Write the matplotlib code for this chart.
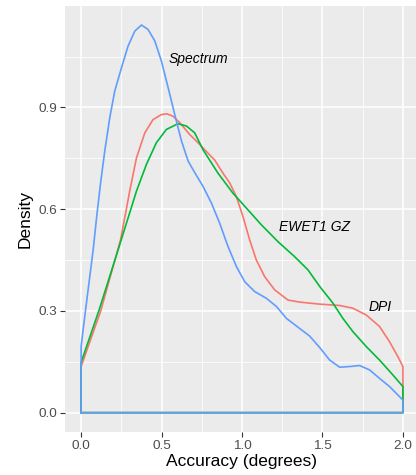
import numpy as np
import matplotlib
matplotlib.use('Agg')
import matplotlib.pyplot as plt


# density curves (x = accuracy in degrees)
dpi_x = [0.0, 0.122, 0.245, 0.271, 0.302, 0.344, 0.396, 0.447, 0.499, 0.534,
         0.571, 0.613, 0.675, 0.737, 0.768, 0.830, 0.882, 0.924, 0.965, 1.006,
         1.048, 1.089, 1.141, 1.203, 1.286, 1.358, 1.483, 1.607, 1.689, 1.772,
         1.855, 1.917, 1.969, 2.0]
dpi_y = [0.136, 0.30, 0.509, 0.574, 0.653, 0.751, 0.825, 0.864, 0.879, 0.881,
         0.874, 0.855, 0.820, 0.791, 0.775, 0.745, 0.706, 0.677, 0.637, 0.578,
         0.509, 0.450, 0.401, 0.362, 0.332, 0.326, 0.320, 0.316, 0.308, 0.288,
         0.254, 0.209, 0.165, 0.136]

ewet_x = [0.0, 0.11, 0.23, 0.292, 0.344, 0.406, 0.468, 0.530, 0.602, 0.655,
          0.706, 0.758, 0.851, 0.944, 1.037, 1.12, 1.224, 1.327, 1.41, 1.483,
          1.565, 1.627, 1.689, 1.772, 1.855, 1.938, 2.0]
ewet_y = [0.148, 0.30, 0.48, 0.574, 0.653, 0.732, 0.796, 0.835, 0.852, 0.845,
          0.825, 0.775, 0.706, 0.647, 0.598, 0.554, 0.504, 0.460, 0.421, 0.372,
          0.323, 0.278, 0.239, 0.195, 0.155, 0.111, 0.077]

spec_x = [0.0, 0.027, 0.075, 0.096, 0.120, 0.147, 0.178, 0.209, 0.251, 0.292,
          0.334, 0.375, 0.416, 0.458, 0.499, 0.541, 0.582, 0.624, 0.665, 0.706,
          0.758, 0.810, 0.861, 0.913, 0.965, 1.017, 1.079, 1.152, 1.214, 1.276,
          1.348, 1.42, 1.483, 1.545, 1.607, 1.669, 1.731, 1.793, 1.855, 1.917,
          2.0]
spec_y = [0.195, 0.30, 0.48, 0.574, 0.673, 0.771, 0.869, 0.948, 1.017, 1.081,
          1.125, 1.143, 1.130, 1.096, 1.037, 0.958, 0.879, 0.801, 0.742, 0.708,
          0.667, 0.618, 0.559, 0.490, 0.431, 0.386, 0.357, 0.337, 0.313, 0.278,
          0.252, 0.226, 0.192, 0.155, 0.134, 0.136, 0.139, 0.126, 0.101, 0.077,
          0.037]

labels = ['DPI', 'EWET1 GZ', 'Spectrum']
colors = ['#F8766D', '#00BA38', '#619CFF']
label_pos = [(1.857, 0.312), (1.45, 0.548), (0.727, 1.043)]

xticks = [0.0, 0.5, 1.0, 1.5, 2.0]
yticks = [0.0, 0.3, 0.6, 0.9]


def closed_outline(x, y):
    # ggplot's geom_density outline drops to zero at both ends
    x = np.asarray(x)
    y = np.asarray(y)
    xs = np.concatenate([[x[0]], x, [x[-1], x[0]]])
    ys = np.concatenate([[0.0], y, [0.0, 0.0]])
    return xs, ys


def main():

    plt.rcParams['font.family'] = ['Liberation Sans', 'DejaVu Sans']

    fig = plt.figure(figsize=(4.16, 4.75), dpi=100)
    ax = fig.add_axes([65/416, 1-432/475, 354/416, 426/475])
    ax.set_facecolor('#EBEBEB')

    series = [(dpi_x, dpi_y), (ewet_x, ewet_y), (spec_x, spec_y)]
    for (x, y), col in zip(series, colors):
        xs, ys = closed_outline(x, y)
        ax.plot(xs, ys, color=col, lw=1.2, solid_joinstyle='round', zorder=3)

    for (tx, ty), lab in zip(label_pos, labels):
        ax.text(tx, ty, lab, style='italic', fontsize=10, ha='center',
                va='center', zorder=4)

    ax.set_xlim(-0.1, 2.1)
    ax.set_ylim(-0.057, 1.199)
    ax.set_xticks(xticks)
    ax.set_xticklabels(['%.1f' % v for v in xticks])
    ax.set_yticks(yticks)
    ax.set_yticklabels(['%.1f' % v for v in yticks])
    ax.set_xticks([0.25, 0.75, 1.25, 1.75], minor=True)
    ax.set_yticks([0.15, 0.45, 0.75, 1.05], minor=True)

    ax.grid(which='major', color='white', lw=1.1, zorder=0)
    ax.grid(which='minor', color='white', lw=0.55, zorder=0)
    ax.set_axisbelow(True)
    for s in ax.spines.values():
        s.set_visible(False)

    ax.tick_params(which='major', length=3.5, width=0.8, color='#333333',
                   labelcolor='#4D4D4D', labelsize=9.7, pad=2)
    ax.tick_params(which='minor', length=0)

    ax.set_xlabel('Accuracy (degrees)', fontsize=12.5, labelpad=2)
    ax.set_ylabel('Density', fontsize=12.5, labelpad=4)

    fig.savefig('out.png', dpi=100)


if __name__ == "__main__":
    main()
